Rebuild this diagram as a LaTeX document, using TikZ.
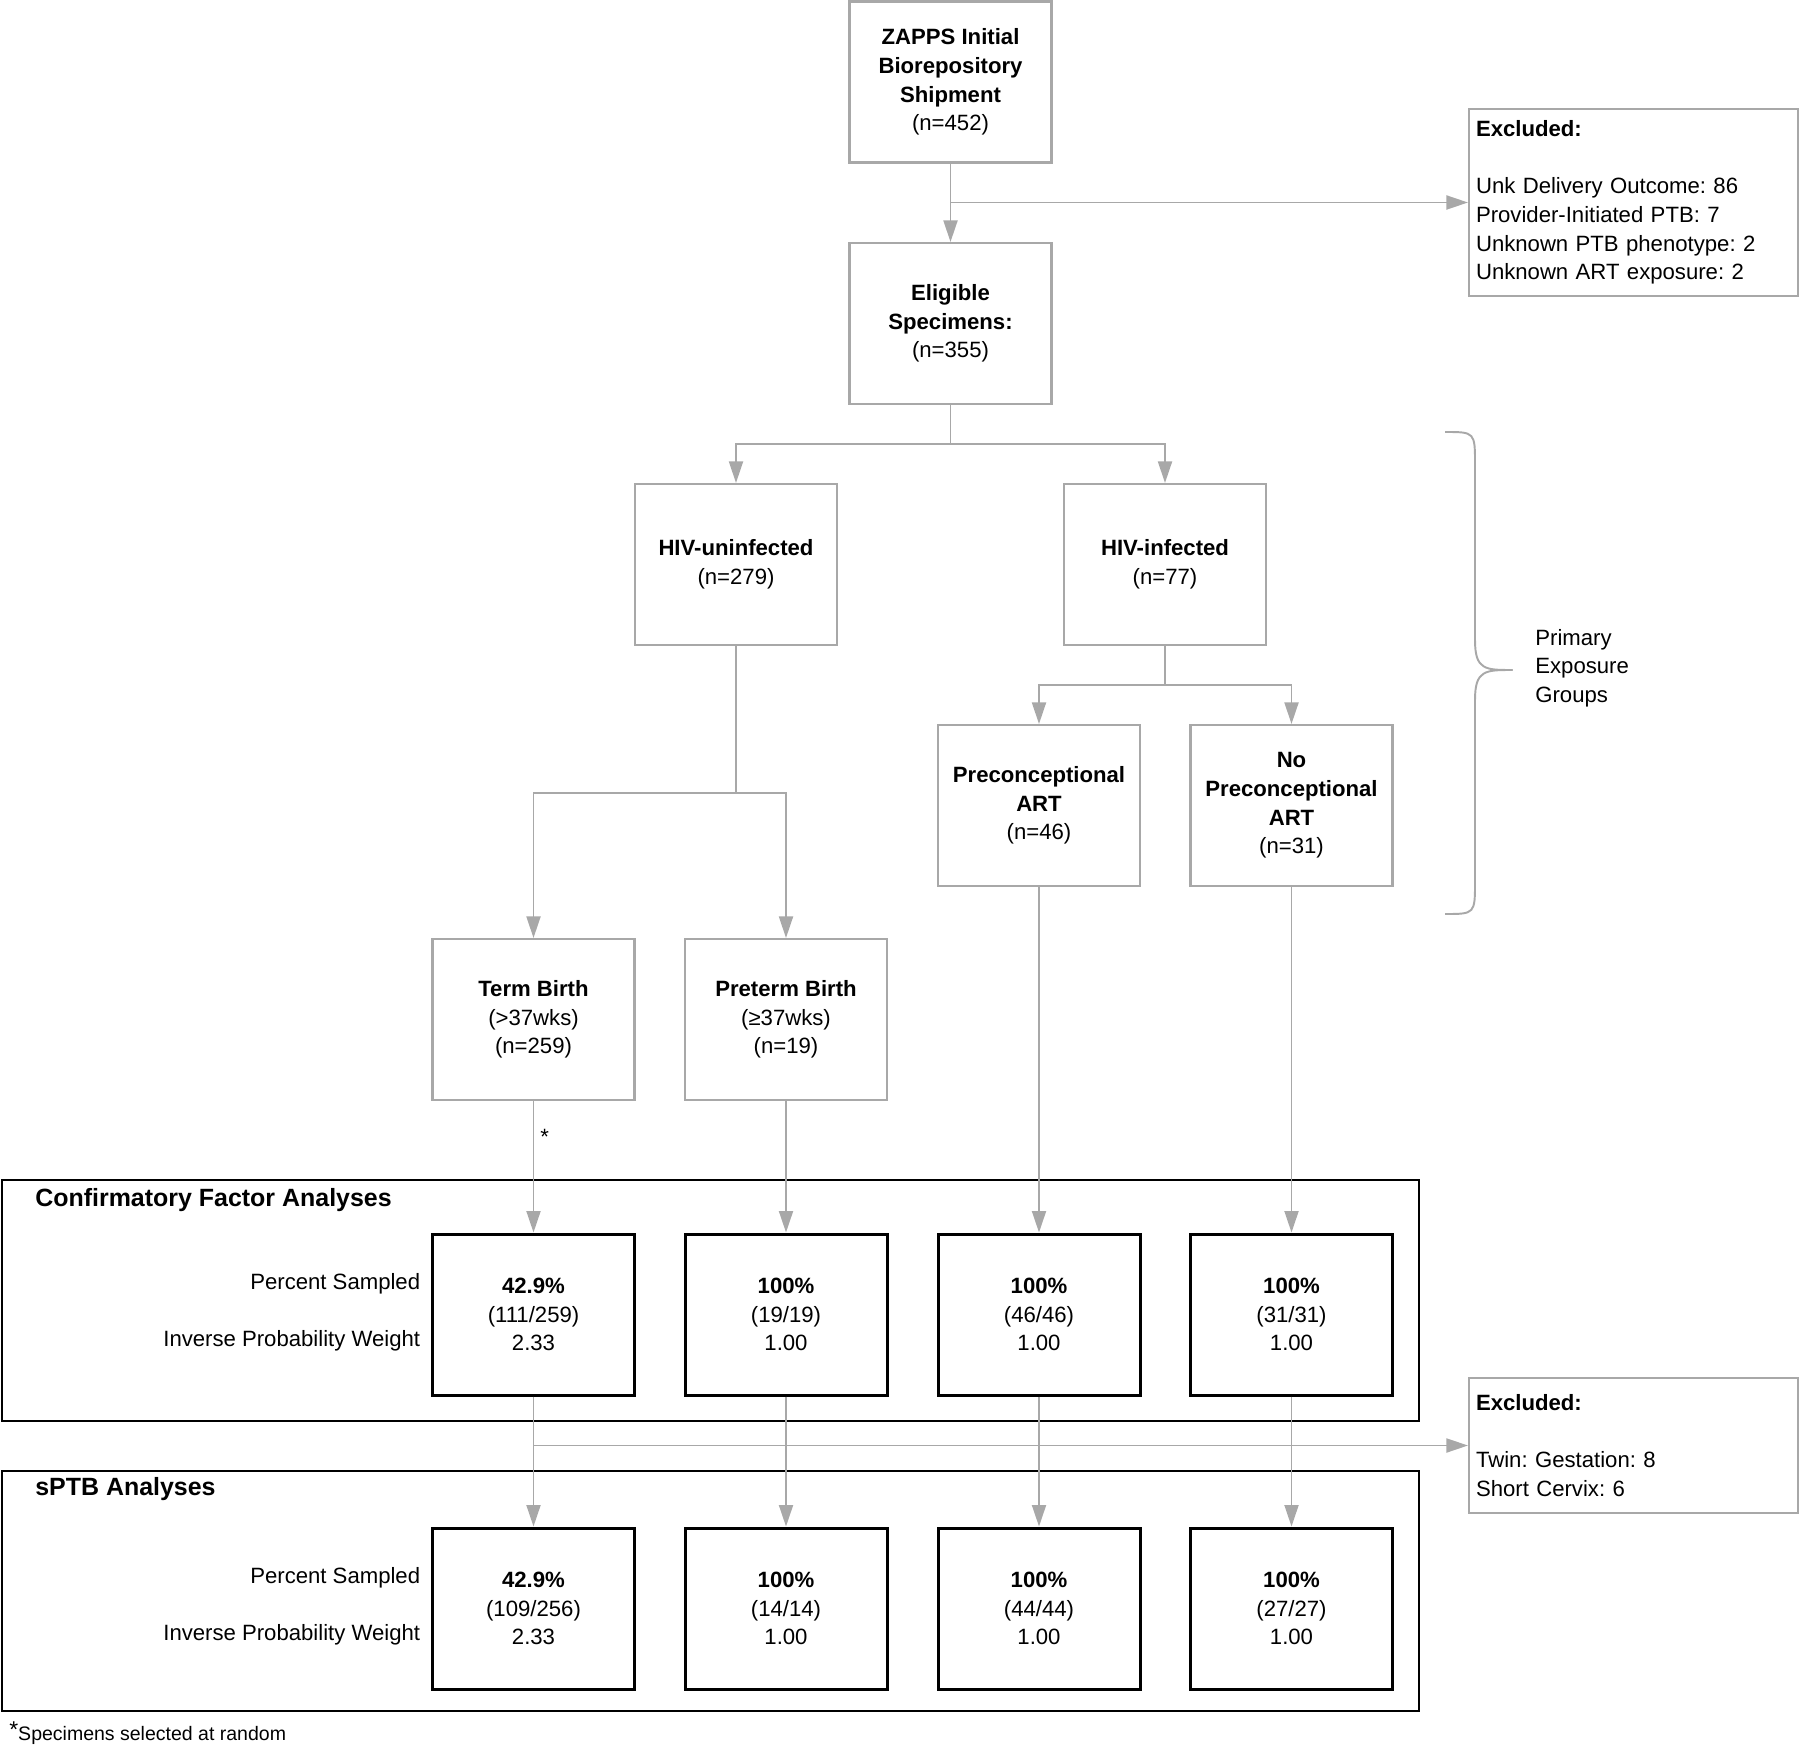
\documentclass[tikz,border=0pt]{standalone}
\usepackage{fontspec}
\setmainfont{Liberation Sans}
\usetikzlibrary{calc}
\usetikzlibrary{arrows.meta}
\frenchspacing

\definecolor{linegray}{HTML}{A8A8A8}
\newcommand\bodysize{\fontsize{12.6}{16.3}\selectfont}

\tikzset{
  graybox/.style={draw=linegray, line width=1.2pt, minimum width=4.04cm, minimum height=3.22cm, align=center, inner sep=0pt},
  blackbox/.style={draw=black, line width=1.7pt, minimum width=4.04cm, minimum height=3.22cm, align=center, inner sep=0pt},
  exbox/.style={draw=linegray, line width=1.2pt, text width=6.3cm, inner xsep=0.14cm, align=left},
  conn/.style={draw=linegray, line width=1.1pt, -{Triangle[length=0.43cm, width=0.28cm]}},
  frame/.style={draw=black, line width=1.4pt},
  sidelabel/.style={anchor=east, inner sep=0pt},
  grouptitle/.style={anchor=west, inner sep=0pt, font=\fontsize{14.2}{17}\selectfont\bfseries}
}

\begin{document}
\begin{tikzpicture}[font=\bodysize]

\useasboundingbox (0,0) rectangle (36,-34.94);

% group frames
\draw[frame] (0.04,-23.6) rectangle (28.38,-28.42);
\draw[frame] (0.04,-29.42) rectangle (28.38,-34.22);
\node[grouptitle] (cfatitle) at (0.70,-24.0) {Confirmatory Factor Analyses};
\node[grouptitle] (sptbtitle) at (0.70,-29.78) {sPTB Analyses};

% top of the tree
\node[graybox] (zapps) at (19.01,-1.64) {\textbf{ZAPPS Initial}\\\textbf{Biorepository}\\\textbf{Shipment}\\(n=452)};
\node[graybox] (elig) at (19.01,-6.47) {\textbf{Eligible}\\\textbf{Specimens:}\\(n=355)};
\node[exbox, minimum height=3.74cm] (exc1) at (32.67,-4.05) {\textbf{Excluded:}\\[16.3pt]Unk Delivery Outcome: 86\\Provider-Initiated PTB: 7\\Unknown PTB phenotype: 2\\Unknown ART exposure: 2};

\node[graybox] (hivu) at (14.72,-11.29) {\textbf{HIV-uninfected}\\(n=279)};
\node[graybox] (hivi) at (23.30,-11.29) {\textbf{HIV-infected}\\(n=77)};
\node[graybox] (prec) at (20.78,-16.11) {\textbf{Preconceptional}\\\textbf{ART}\\(n=46)};
\node[graybox] (noprec) at (25.83,-16.11) {\textbf{No}\\\textbf{Preconceptional}\\\textbf{ART}\\(n=31)};
\node[graybox] (term) at (10.67,-20.39) {\textbf{Term Birth}\\(>37wks)\\(n=259)};
\node[graybox] (preterm) at (15.72,-20.39) {\textbf{Preterm Birth}\\(≥37wks)\\(n=19)};

% brace
\draw[linegray, line width=1.1pt] (28.9,-8.64) .. controls (29.5,-8.64) .. (29.5,-9.3) -- (29.5,-12.8) .. controls (29.5,-13.4) and (29.7,-13.4) .. (30.25,-13.4);
\draw[linegray, line width=1.1pt] (30.25,-13.4) .. controls (29.7,-13.4) and (29.5,-13.4) .. (29.5,-14.0) -- (29.5,-17.62) .. controls (29.5,-18.28) .. (28.9,-18.28);
\node[anchor=west, align=left, inner sep=0pt] (pegtext) at (30.7,-13.36) {Primary\\Exposure\\Groups};

% confirmatory factor analyses
\node[blackbox] (cfa1) at (10.67,-26.29) {\textbf{42.9\%}\\(111/259)\\2.33};
\node[blackbox] (cfa2) at (15.72,-26.29) {\textbf{100\%}\\(19/19)\\1.00};
\node[blackbox] (cfa3) at (20.78,-26.29) {\textbf{100\%}\\(46/46)\\1.00};
\node[blackbox] (cfa4) at (25.83,-26.29) {\textbf{100\%}\\(31/31)\\1.00};
\node[sidelabel] (cfaps) at ([xshift=-0.21cm, yshift=0.62cm]cfa1.west) {Percent Sampled};
\node[sidelabel] (cfaipw) at ([xshift=-0.21cm, yshift=-0.52cm]cfa1.west) {Inverse Probability Weight};

% sPTB analyses
\node[blackbox] (sptb1) at (10.67,-32.17) {\textbf{42.9\%}\\(109/256)\\2.33};
\node[blackbox] (sptb2) at (15.72,-32.17) {\textbf{100\%}\\(14/14)\\1.00};
\node[blackbox] (sptb3) at (20.78,-32.17) {\textbf{100\%}\\(44/44)\\1.00};
\node[blackbox] (sptb4) at (25.83,-32.17) {\textbf{100\%}\\(27/27)\\1.00};
\node[sidelabel] (sptbps) at ([xshift=-0.21cm, yshift=0.62cm]sptb1.west) {Percent Sampled};
\node[sidelabel] (sptbipw) at ([xshift=-0.21cm, yshift=-0.52cm]sptb1.west) {Inverse Probability Weight};

\node[exbox, minimum height=2.7cm] (exc2) at (32.67,-28.91) {\textbf{Excluded:}\\[16.3pt]Twin: Gestation: 8\\Short Cervix: 6};

% connectors
\draw[conn] (zapps) -- (elig);
\draw[conn] (zapps.south |- exc1.west) -- (exc1.west);
\draw[conn] (elig.south) -- ++(0,-0.78) -| (hivu.north);
\draw[conn] (elig.south) -- ++(0,-0.78) -| (hivi.north);
\draw[conn] (hivi.south) -- ++(0,-0.78) -| (prec.north);
\draw[conn] (hivi.south) -- ++(0,-0.78) -| (noprec.north);
\draw[conn] (hivu.south) -- ++(0,-2.94) -| (term.north);
\draw[conn] (hivu.south) -- ++(0,-2.94) -| (preterm.north);

\draw[conn] (term) -- node[pos=0.27, right, text=black] {*} (cfa1);
\draw[conn] (preterm) -- (cfa2);
\draw[conn] (prec) -- (cfa3);
\draw[conn] (noprec) -- (cfa4);

\draw[conn] (cfa1) -- (sptb1);
\draw[conn] (cfa2) -- (sptb2);
\draw[conn] (cfa3) -- (sptb3);
\draw[conn] (cfa4) -- (sptb4);
\draw[conn] (cfa1.south |- exc2.west) -- (exc2.west);

\node[anchor=west, inner sep=0pt, font=\fontsize{11.1}{13}\selectfont] (footnote) at (0.18,-34.66) {\raisebox{0.35ex}{\fontsize{13}{13}\selectfont *}Specimens selected at random};

\end{tikzpicture}
\end{document}
